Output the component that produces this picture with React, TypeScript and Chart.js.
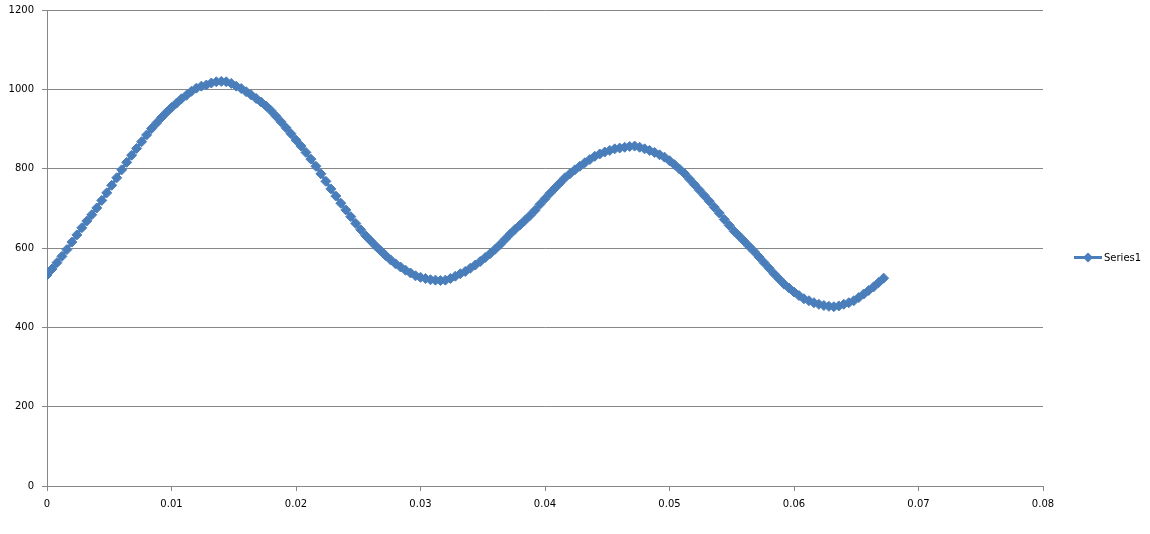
import React, { useEffect, useRef } from 'react';
import { Chart, registerables } from 'chart.js';

Chart.register(...registerables);

const seriesName = 'Series1';

const xValues = [
  0, 0.0004, 0.0008, 0.0012, 0.0016, 0.002, 0.0024, 0.0028, 0.0032, 0.0036,
  0.004, 0.0044, 0.0048, 0.0052, 0.0056, 0.006, 0.0064, 0.0068, 0.0072, 0.0076,
  0.008, 0.0084, 0.0088, 0.0092, 0.0096, 0.01, 0.0104, 0.0108, 0.0112, 0.0116,
  0.012, 0.0124, 0.0128, 0.0132, 0.0136, 0.014, 0.0144, 0.0148, 0.0152, 0.0156,
  0.016, 0.0164, 0.0168, 0.0172, 0.0176, 0.018, 0.0184, 0.0188, 0.0192, 0.0196,
  0.02, 0.0204, 0.0208, 0.0212, 0.0216, 0.022, 0.0224, 0.0228, 0.0232, 0.0236,
  0.024, 0.0244, 0.0248, 0.0252, 0.0256, 0.026, 0.0264, 0.0268, 0.0272, 0.0276,
  0.028, 0.0284, 0.0288, 0.0292, 0.0296, 0.03, 0.0304, 0.0308, 0.0312, 0.0316,
  0.032, 0.0324, 0.0328, 0.0332, 0.0336, 0.034, 0.0344, 0.0348, 0.0352, 0.0356,
  0.036, 0.0364, 0.0368, 0.0372, 0.0376, 0.038, 0.0384, 0.0388, 0.0392, 0.0396,
  0.04, 0.0404, 0.0408, 0.0412, 0.0416, 0.042, 0.0424, 0.0428, 0.0432, 0.0436,
  0.044, 0.0444, 0.0448, 0.0452, 0.0456, 0.046, 0.0464, 0.0468, 0.0472, 0.0476,
  0.048, 0.0484, 0.0488, 0.0492, 0.0496, 0.05, 0.0504, 0.0508, 0.0512, 0.0516,
  0.052, 0.0524, 0.0528, 0.0532, 0.0536, 0.054, 0.0544, 0.0548, 0.0552, 0.0556,
  0.056, 0.0564, 0.0568, 0.0572, 0.0576, 0.058, 0.0584, 0.0588, 0.0592, 0.0596,
  0.06, 0.0604, 0.0608, 0.0612, 0.0616, 0.062, 0.0624, 0.0628, 0.0632, 0.0636,
  0.064, 0.0644, 0.0648, 0.0652, 0.0656, 0.066, 0.0664, 0.0668, 0.0672,
];

const series1 = [
  532, 547, 563, 579, 596, 615, 633, 651, 668, 684,
  701, 720, 739, 758, 777, 797, 816, 834, 851, 868,
  885, 901, 915, 929, 942, 954, 965, 976, 985, 995,
  1003, 1008, 1011, 1016, 1019, 1020, 1019, 1015, 1008, 1002,
  994, 986, 977, 968, 958, 946, 932, 918, 903, 888,
  872, 857, 841, 824, 806, 787, 768, 749, 731, 713,
  696, 679, 662, 646, 631, 618, 605, 593, 581, 570,
  560, 552, 544, 537, 530, 526, 523, 520, 519, 518,
  519, 523, 529, 535, 541, 549, 557, 566, 576, 586,
  597, 609, 622, 635, 647, 658, 670, 682, 695, 710,
  724, 738, 751, 764, 777, 787, 797, 806, 815, 823,
  831, 837, 842, 846, 850, 852, 854, 856, 857, 854,
  850, 846, 841, 835, 829, 820, 810, 799, 788, 774,
  760, 746, 732, 718, 703, 688, 672, 657, 642, 630,
  617, 604, 591, 577, 563, 549, 535, 522, 509, 499,
  489, 480, 472, 467, 462, 458, 455, 453, 452, 454,
  458, 462, 467, 475, 484, 493, 502, 513, 524,
];

const xTickLabels = ['0', '0.01', '0.02', '0.03', '0.04', '0.05', '0.06', '0.07', '0.08'];
const yTickLabels = ['0', '200', '400', '600', '800', '1000', '1200'];

const SERIES_COLOR = '#4a7ebb';
const GRID_COLOR = '#878787';
const FONT = { family: '"DejaVu Sans", Verdana, sans-serif', size: 10 };

export default function App() {
  const ref = useRef<HTMLCanvasElement>(null);

  useEffect(() => {
    if (!ref.current) return;

    const legendPlugin = {
      id: 'excelLegend',
      afterDraw(chart: any) {
        const ctx = chart.ctx as CanvasRenderingContext2D;
        const y = 257.5;
        ctx.save();
        ctx.strokeStyle = SERIES_COLOR;
        ctx.lineWidth = 3;
        ctx.beginPath();
        ctx.moveTo(1074, y);
        ctx.lineTo(1102, y);
        ctx.stroke();
        ctx.fillStyle = SERIES_COLOR;
        ctx.beginPath();
        const cx = 1088;
        const r = 5;
        ctx.moveTo(cx, y - r);
        ctx.lineTo(cx + r, y);
        ctx.lineTo(cx, y + r);
        ctx.lineTo(cx - r, y);
        ctx.closePath();
        ctx.fill();
        ctx.fillStyle = '#000';
        ctx.font = `${FONT.size}px ${FONT.family}`;
        ctx.textBaseline = 'middle';
        ctx.textAlign = 'left';
        ctx.fillText(seriesName, 1104, y + 0.5);
        ctx.restore();
      },
    };

    const chart = new Chart(ref.current, {
      type: 'scatter',
      data: {
        datasets: [
          {
            label: seriesName,
            data: xValues.map((x, i) => ({ x, y: series1[i] })),
            showLine: true,
            borderColor: SERIES_COLOR,
            backgroundColor: SERIES_COLOR,
            borderWidth: 3,
            pointStyle: 'rectRot',
            pointRadius: 5,
            pointBorderWidth: 1,
            pointBorderColor: SERIES_COLOR,
            pointBackgroundColor: SERIES_COLOR,
            tension: 0,
          },
        ],
      },
      options: {
        animation: false,
        responsive: true,
        maintainAspectRatio: false,
        layout: { padding: { left: 0, top: 10, right: 107, bottom: 0 } },
        plugins: {
          legend: { display: false },
          tooltip: { enabled: false },
        },
        scales: {
          x: {
            type: 'linear',
            min: 0,
            max: 0.08,
            ticks: {
              stepSize: 0.01,
              padding: 7,
              color: '#000',
              font: FONT,
              maxRotation: 0,
              autoSkip: false,
              callback: (_v: any, i: number) => xTickLabels[i],
            },
            grid: {
              drawOnChartArea: false,
              drawTicks: true,
              tickLength: 5,
              color: GRID_COLOR,
            },
            border: { color: GRID_COLOR, width: 1 },
            afterFit: (s: any) => {
              s.height = 48;
              s.paddingLeft = 0;
              s.paddingRight = 0;
            },
          },
          y: {
            type: 'linear',
            min: 0,
            max: 1200,
            ticks: {
              stepSize: 200,
              padding: 8,
              color: '#000',
              font: FONT,
              autoSkip: false,
              callback: (_v: any, i: number) => yTickLabels[i],
            },
            grid: {
              drawOnChartArea: true,
              drawTicks: true,
              tickLength: 5,
              color: GRID_COLOR,
            },
            border: { color: GRID_COLOR, width: 1 },
            afterFit: (s: any) => {
              s.width = 47;
              s.paddingTop = 0;
              s.paddingBottom = 0;
            },
          },
        },
      },
      plugins: [legendPlugin],
    });

    return () => chart.destroy();
  }, []);

  return (
    <div style={{ position: 'fixed', left: 0, top: 0, width: 1150, height: 534, background: '#fff' }}>
      <canvas ref={ref} />
    </div>
  );
}
